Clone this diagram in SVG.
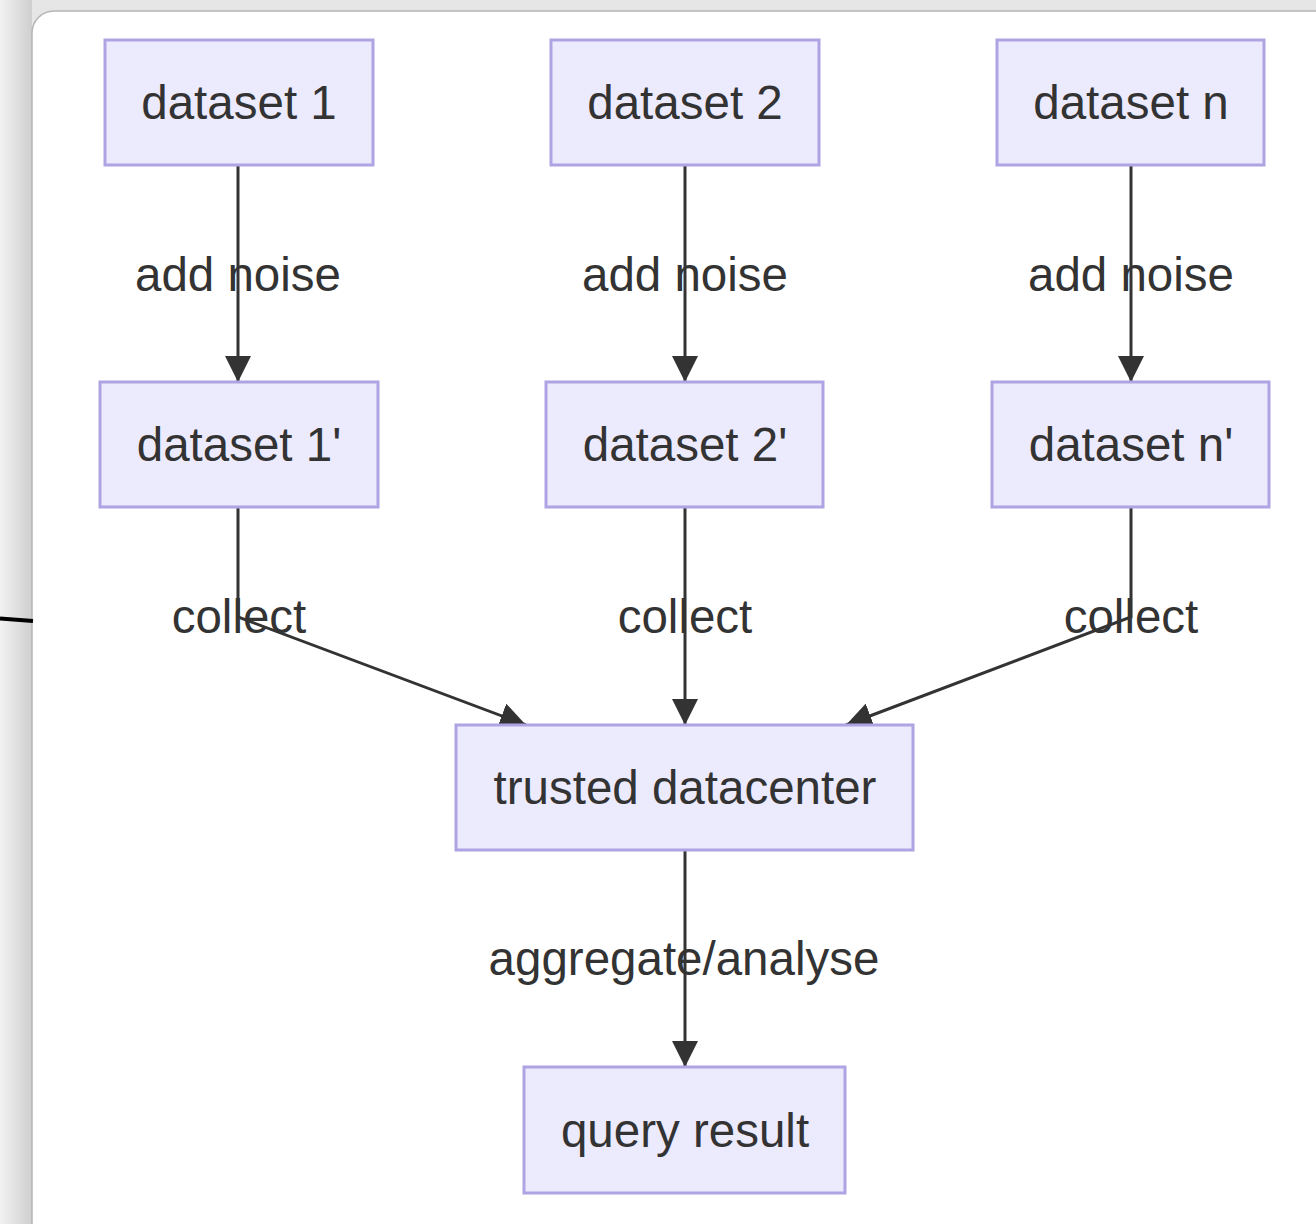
<svg xmlns="http://www.w3.org/2000/svg" width="1316" height="1224" viewBox="0 0 1316 1224">
  <defs>
    <linearGradient id="side" x1="0" y1="0" x2="1" y2="0">
      <stop offset="0" stop-color="#f2f2f2"/>
      <stop offset="1" stop-color="#cfcfcf"/>
    </linearGradient>
    <linearGradient id="top" x1="0" y1="0" x2="0" y2="1">
      <stop offset="0" stop-color="#e6e6e6"/>
      <stop offset="1" stop-color="#d2d2d2"/>
    </linearGradient>
    <marker id="arrow" viewBox="0 0 10 10" refX="10" refY="5" markerWidth="26" markerHeight="26" markerUnits="userSpaceOnUse" orient="auto">
      <path d="M0,0 L10,5 L0,10 z" fill="#333333"/>
    </marker>
    <style>
      .node rect { fill: #eceafd; stroke: #afa3e3; stroke-width: 3; }
      .node text { font-family: "Liberation Sans", Arial, sans-serif; font-size: 47.5px; fill: #333333; text-anchor: middle; }
      .edge { fill: none; stroke: #333333; stroke-width: 3; }
      .label { font-family: "Liberation Sans", Arial, sans-serif; font-size: 47.5px; fill: #333333; text-anchor: middle; }
    </style>
  </defs>

  <rect x="0" y="0" width="1316" height="1224" fill="url(#top)"/>
  <rect x="0" y="0" width="32" height="1224" fill="url(#side)"/>
  <rect x="32" y="11" width="1310" height="1240" rx="22" ry="22" fill="#ffffff" stroke="#b5b5b5" stroke-width="1.5"/>
  <line x1="0" y1="618.5" x2="33" y2="621" stroke="#000000" stroke-width="4"/>

  <g id="connectors">
    <path class="edge" d="M238,165 L238,382" marker-end="url(#arrow)"/>
    <path class="edge" d="M685,165 L685,382" marker-end="url(#arrow)"/>
    <path class="edge" d="M1131,165 L1131,382" marker-end="url(#arrow)"/>
    <path class="edge" d="M238,507 L238,617 L526,725" marker-end="url(#arrow)"/>
    <path class="edge" d="M685,507 L685,725" marker-end="url(#arrow)"/>
    <path class="edge" d="M1131,507 L1131,617 L846,725" marker-end="url(#arrow)"/>
    <path class="edge" d="M685,850 L685,1067" marker-end="url(#arrow)"/>
    <text class="label" x="238" y="291">add noise</text>
    <text class="label" x="685" y="291">add noise</text>
    <text class="label" x="1131" y="291">add noise</text>
    <text class="label" x="239" y="633">collect</text>
    <text class="label" x="685" y="633">collect</text>
    <text class="label" x="1131" y="633">collect</text>
    <text class="label" x="684" y="975">aggregate/analyse</text>
  </g>

  <g id="dataset1" class="node">
    <rect x="105" y="40" width="268" height="125"/>
    <text x="239" y="119">dataset 1</text>
  </g>
  <g id="dataset2" class="node">
    <rect x="551" y="40" width="268" height="125"/>
    <text x="685" y="119">dataset 2</text>
  </g>
  <g id="datasetn" class="node">
    <rect x="997" y="40" width="267" height="125"/>
    <text x="1131" y="119">dataset n</text>
  </g>
  <g id="dataset1p" class="node">
    <rect x="100" y="382" width="278" height="125"/>
    <text x="239" y="461">dataset 1'</text>
  </g>
  <g id="dataset2p" class="node">
    <rect x="546" y="382" width="277" height="125"/>
    <text x="685" y="461">dataset 2'</text>
  </g>
  <g id="datasetnp" class="node">
    <rect x="992" y="382" width="277" height="125"/>
    <text x="1131" y="461">dataset n'</text>
  </g>
  <g id="datacenter" class="node">
    <rect x="456" y="725" width="457" height="125"/>
    <text x="685" y="804">trusted datacenter</text>
  </g>
  <g id="queryresult" class="node">
    <rect x="524" y="1067" width="321" height="126"/>
    <text x="685" y="1147">query result</text>
  </g>
</svg>
